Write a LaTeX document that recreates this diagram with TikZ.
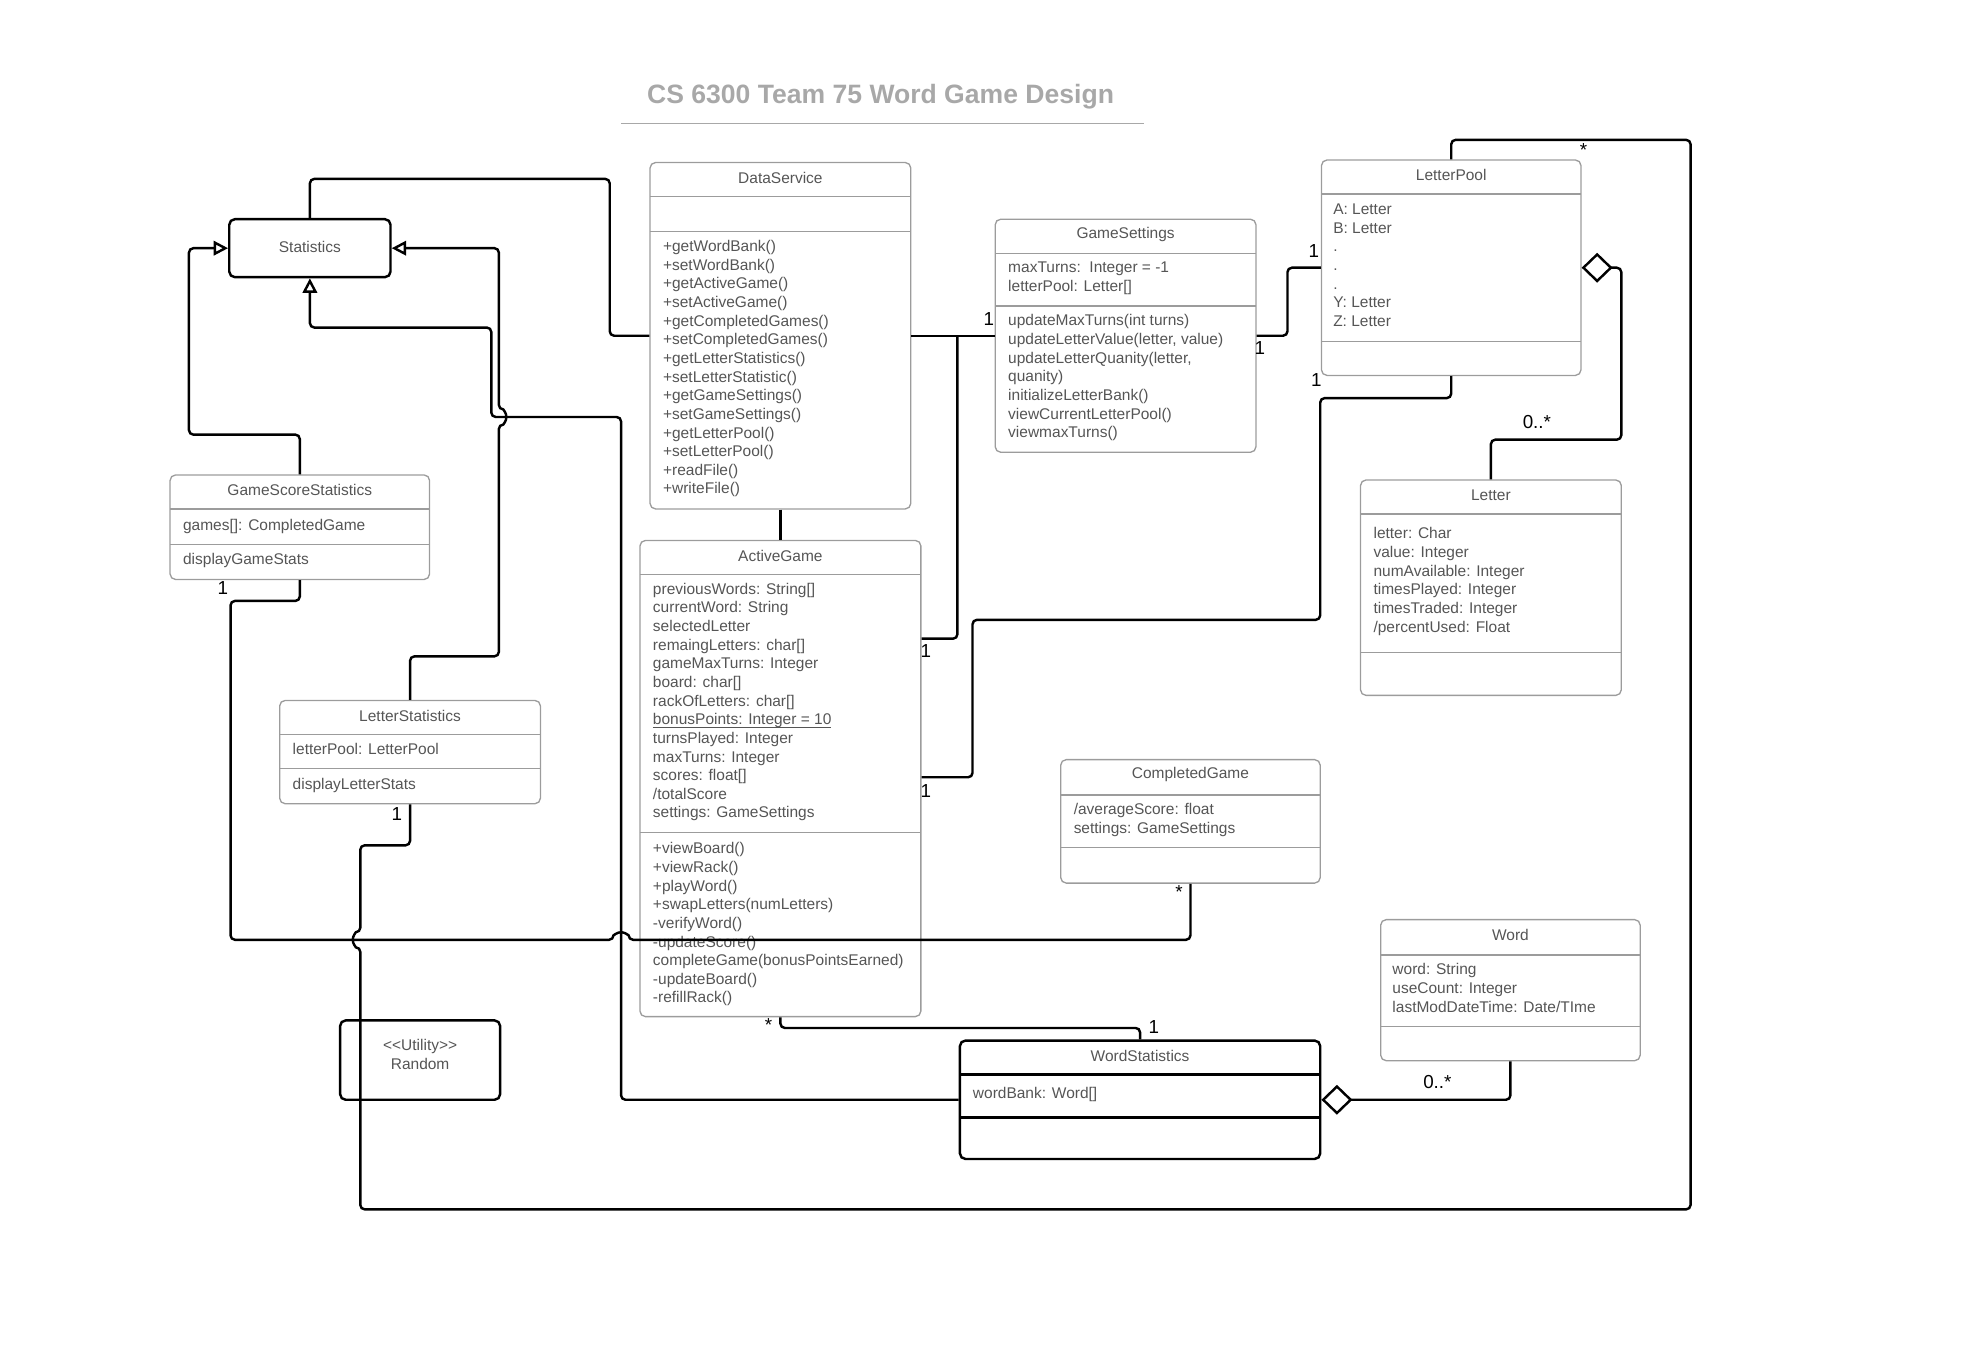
\documentclass[tikz,border=0pt]{standalone}
\usepackage{fontspec}
\setmainfont{Liberation Sans}
\usetikzlibrary{arrows.meta,fit}

\definecolor{boxgray}{HTML}{9C9C9C}
\definecolor{txtgray}{HTML}{555555}
\definecolor{titlegray}{HTML}{A8A8A8}

\tikzset{
  classbox/.style={draw=boxgray, line width=0.6pt, rounded corners=2.5pt, inner sep=0pt},
  heavybox/.style={draw=black, line width=1.1pt, rounded corners=2.5pt, inner sep=0pt,
    text=txtgray, font=\fontsize{7}{8.4}\selectfont, align=center},
  sepline/.style={draw=boxgray, line width=0.6pt},
  ctitle/.style={text=txtgray, font=\fontsize{7}{8.4}\selectfont, inner sep=0pt},
  members/.style={text=txtgray, font=\fontsize{7}{8.42}\selectfont, align=left, anchor=north west, inner sep=0pt},
  mult/.style={font=\fontsize{8.5}{10}\selectfont, inner sep=0pt},
  assoc/.style={draw=black, line width=1.1pt, rounded corners=2pt},
  gen/.style={assoc, -{Triangle[open, length=6.5pt, width=6.5pt]}},
  aggr/.style={assoc, {Diamond[open, length=14pt, width=13.5pt]}-}
}

\begin{document}
\begin{tikzpicture}[x=0.02cm, y=-0.02cm]
  \useasboundingbox (0,0) rectangle (1567,1080);

  % Title
  \node[font=\bfseries\fontsize{12}{14}\selectfont, text=titlegray] (title) at (699,77) {CS 6300 Team 75 Word Game Design};
  \draw[titlegray, line width=0.8pt] (493,98) -- (908,98);

  % Statistics
  \node[heavybox, fit={(182,174) (310,220)}] (statistics) {};
  \node[ctitle] (statistics-t) at (246,196) {Statistics};

  % DataService
  \node[classbox, fit={(516,129) (723,404)}] (dataservice) {};
  \node[ctitle] (dataservice-t) at (619.5,141) {DataService};
  \draw[sepline] (516,156) -- (723,156);
  \draw[sepline] (516,184) -- (723,184);
  \node[members] (dataservice-m) at (526,190.5) {+getWordBank()\\+setWordBank()\\+getActiveGame()\\+setActiveGame()\\+getCompletedGames()\\+setCompletedGames()\\+getLetterStatistics()\\+setLetterStatistic()\\+getGameSettings()\\+setGameSettings()\\+getLetterPool()\\+setLetterPool()\\+readFile()\\+writeFile()};

  % GameSettings
  \node[classbox, fit={(790,174) (997,359)}] (gamesettings) {};
  \node[ctitle] (gamesettings-t) at (893.5,186) {GameSettings};
  \draw[sepline] (790,201) -- (997,201);
  \draw[sepline] (790,243) -- (997,243);
  \node[members] (gamesettings-a) at (800,207.5) {maxTurns:\ \ Integer = -1\\letterPool: Letter[]};
  \node[members] (gamesettings-m) at (800,249.5) {updateMaxTurns(int turns)\\updateLetterValue(letter, value)\\updateLetterQuanity(letter,\\quanity)\\initializeLetterBank()\\viewCurrentLetterPool()\\viewmaxTurns()};

  % LetterPool
  \node[classbox, fit={(1049,127) (1255,298)}] (letterpool) {};
  \node[ctitle] (letterpool-t) at (1152,139) {LetterPool};
  \draw[sepline] (1049,154) -- (1255,154);
  \draw[sepline] (1049,271) -- (1255,271);
  \node[members] (letterpool-a) at (1058,161.5) {A: Letter\\B: Letter\\.\\.\\.\\Y: Letter\\Z: Letter};

  % Letter
  \node[classbox, fit={(1080,381) (1287,552)}] (letter) {};
  \node[ctitle] (letter-t) at (1183.5,393) {Letter};
  \draw[sepline] (1080,408) -- (1287,408);
  \draw[sepline] (1080,518) -- (1287,518);
  \node[members] (letter-a) at (1090,418.5) {letter: Char\\value: Integer\\numAvailable: Integer\\timesPlayed: Integer\\timesTraded: Integer\\/percentUsed: Float};

  % GameScoreStatistics
  \node[classbox, fit={(135,377) (341,460)}] (gamescore) {};
  \node[ctitle] (gamescore-t) at (238,389) {GameScoreStatistics};
  \draw[sepline] (135,404) -- (341,404);
  \draw[sepline] (135,432) -- (341,432);
  \node[members] (gamescore-a) at (145,411.5) {games[]: CompletedGame};
  \node[members] (gamescore-m) at (145,438.5) {displayGameStats};

  % LetterStatistics
  \node[classbox, fit={(222,556) (429,638)}] (letterstats) {};
  \node[ctitle] (letterstats-t) at (325.5,568) {LetterStatistics};
  \draw[sepline] (222,583) -- (429,583);
  \draw[sepline] (222,610) -- (429,610);
  \node[members] (letterstats-a) at (232,589.5) {letterPool: LetterPool};
  \node[members] (letterstats-m) at (232,617.5) {displayLetterStats};

  % ActiveGame
  \node[classbox, fit={(508,429) (731,807)}] (activegame) {};
  \node[ctitle] (activegame-t) at (619.5,441) {ActiveGame};
  \draw[sepline] (508,456) -- (731,456);
  \draw[sepline] (508,661) -- (731,661);
  \node[members] (activegame-a) at (518,462.5) {previousWords: String[]\\currentWord: String\\selectedLetter\\remaingLetters: char[]\\gameMaxTurns: Integer\\board: char[]\\rackOfLetters: char[]\\\underline{\smash{bonusPoints: Integer = 10}}\\turnsPlayed: Integer\\maxTurns: Integer\\scores: float[]\\/totalScore\\settings: GameSettings};
  \node[members] (activegame-m) at (518,668.5) {+viewBoard()\\+viewRack()\\+playWord()\\+swapLetters(numLetters)\\-verifyWord()\\-updateScore()\\completeGame(bonusPointsEarned)\\-updateBoard()\\-refillRack()};

  % CompletedGame
  \node[classbox, fit={(842,603) (1048,701)}] (completed) {};
  \node[ctitle] (completed-t) at (945,615) {CompletedGame};
  \draw[sepline] (842,631) -- (1048,631);
  \draw[sepline] (842,673) -- (1048,673);
  \node[members] (completed-a) at (852,637.5) {/averageScore: float\\settings: GameSettings};

  % Word
  \node[classbox, fit={(1096,730) (1302,842)}] (word) {};
  \node[ctitle] (word-t) at (1199,742) {Word};
  \draw[sepline] (1096,758) -- (1302,758);
  \draw[sepline] (1096,815) -- (1302,815);
  \node[members] (word-a) at (1105,764.5) {word: String\\useCount: Integer\\lastModDateTime: Date/TIme};

  % WordStatistics
  \node[heavybox, fit={(762,826) (1048,920)}] (wordstats) {};
  \node[ctitle] (wordstats-t) at (905,838) {WordStatistics};
  \draw[line width=1.1pt] (762,853) -- (1048,853);
  \draw[line width=1.1pt] (762,887) -- (1048,887);
  \node[members] (wordstats-a) at (772,862.5) {wordBank: Word[]};

  % Random
  \node[heavybox, fit={(270,810) (397,873)}] (random) {<{}<Utility>{}>\\Random};

  % Generalizations into Statistics
  \draw[gen] (gamescore.north) |- (150,345) |- (statistics.west);
  \draw[gen] (letterstats.north) |- (396,521) -- (396,337) arc[start angle=90, end angle=-90, radius=6] |- (statistics.east);
  \draw[gen] (wordstats.west) -| (493,331) -| (390,260) -| (statistics.south);

  % Associations
  \draw[assoc] (statistics.north) |- (484,142) |- (dataservice.west);
  \draw[assoc] (dataservice.south) -- (activegame.north);
  \draw[assoc] (dataservice.east) -- (gamesettings.west);
  \draw[assoc] (activegame.east |- 0,507) -| (760,266.5);
  \draw[assoc] (gamesettings.east) -| (1022,212.5) -- (letterpool.west);
  \draw[assoc] (activegame.east |- 0,617) -| (772,492) -| (1048,316) -| (letterpool.south);
  \draw[assoc] (gamescore.south) |- (183,477) |- (487,746) arc[start angle=180, end angle=360, radius=6] -| (completed.south);
  \draw[assoc] (letterstats.south) |- (286,671) -- (286,740) arc[start angle=270, end angle=90, radius=6] -- (286,960) -| (1342,111) -| (letterpool.north);
  \draw[assoc] (activegame.south) |- (905,816) -- (wordstats.north);

  % Aggregations
  \draw[aggr] (letterpool.east) -| (1287,349) -| (letter.north);
  \draw[aggr] (wordstats.east) -| (word.south);

  % Multiplicities
  \node[mult] (m1) at (785,253) {1};
  \node[mult] (m2) at (735,517) {1};
  \node[mult] (m3) at (1000,276) {1};
  \node[mult] (m4) at (1043,199) {1};
  \node[mult] (m5) at (735,628) {1};
  \node[mult] (m6) at (1045,302) {1};
  \node[mult] (m7) at (1257,119) {*};
  \node[mult] (m8) at (1220,335) {0..*};
  \node[mult] (m9) at (177,467) {1};
  \node[mult] (m10) at (936,708) {*};
  \node[mult] (m11) at (315,646) {1};
  \node[mult] (m12) at (610,814) {*};
  \node[mult] (m13) at (916,815) {1};
  \node[mult] (m14) at (1141,859) {0..*};
\end{tikzpicture}
\end{document}
